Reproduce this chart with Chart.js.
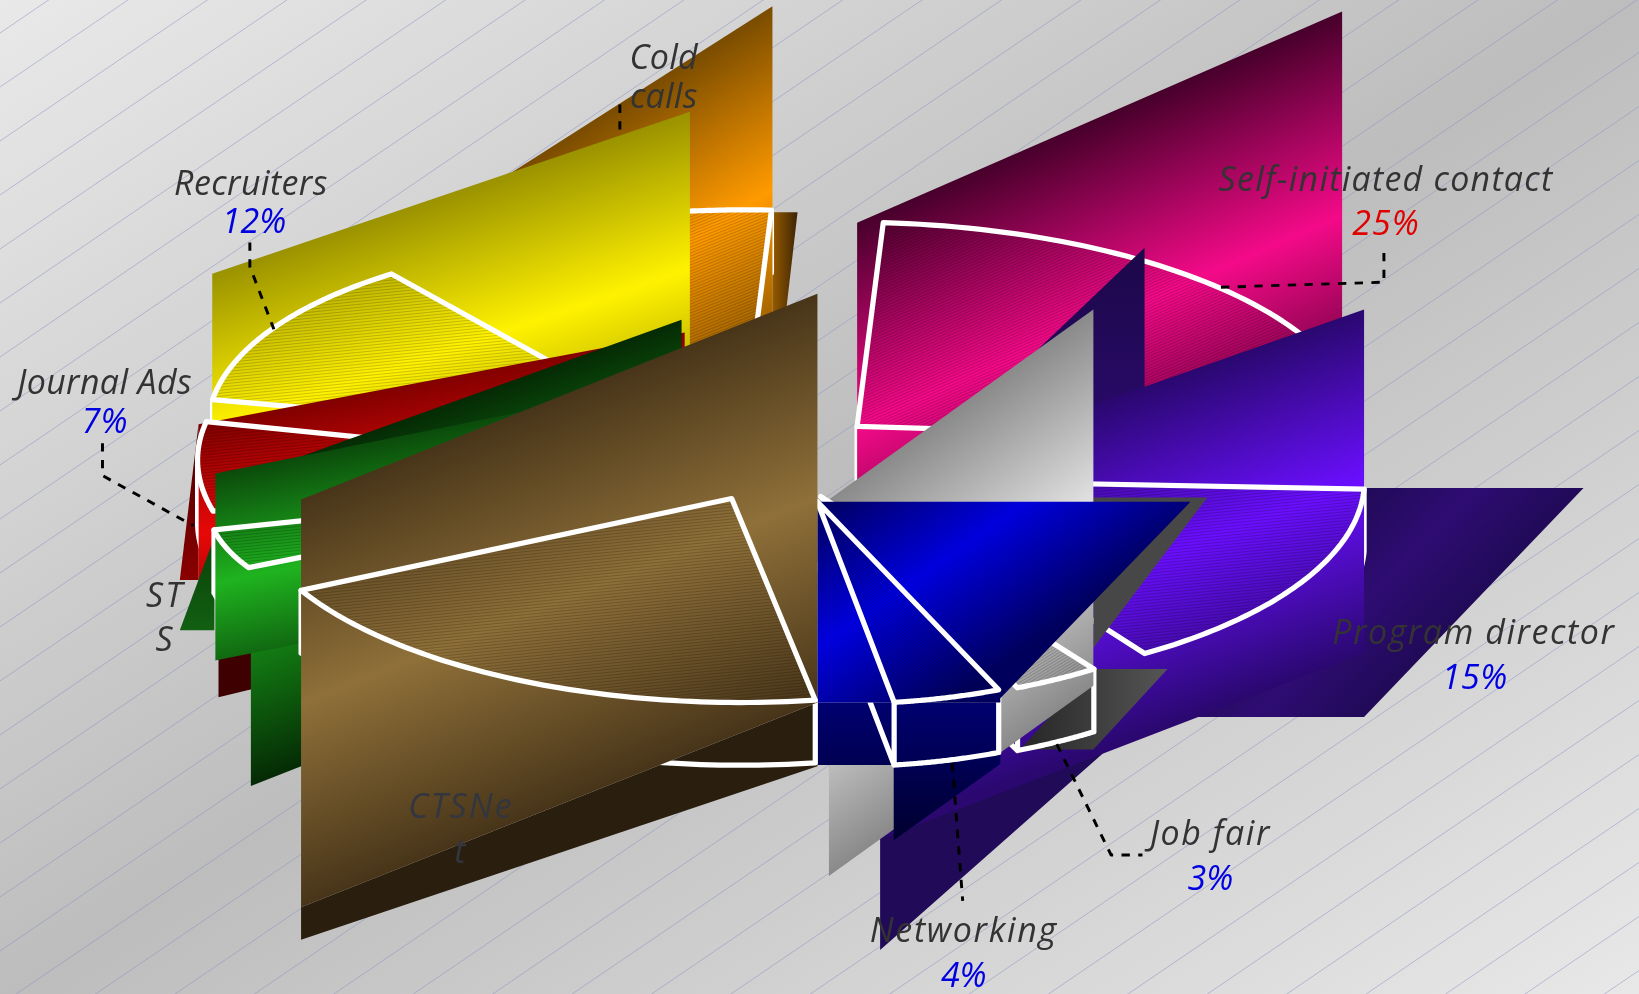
<!DOCTYPE html>
<html>
<head>
<meta charset="utf-8">
<style>html,body{margin:0;padding:0;background:#c8c8c8;overflow:hidden}canvas{display:block}</style>
<script src="https://cdn.jsdelivr.net/npm/chart.js@4/dist/chart.umd.min.js"></script>
</head>
<body>
<canvas id="c" width="1639" height="994"></canvas>
<script>
const categories = ['Self-initiated contact','Program director','Job fair','Networking','CTSNet','STS','Journal Ads','Recruiters','Cold calls'];
const shares = [25,15,3,4,20,4,7,12,10];
const labelLines = [['Self-initiated contact'],['Program director'],['Job fair'],['Networking'],['CTSNe','t'],['ST','S'],['Journal Ads'],['Recruiters'],['Cold','calls']];
const showShare = [true,true,true,true,false,false,true,true,false];

function shear(x,y,s,h,dark,bright){return {x,y,s,h,dark,bright};}
function lin(x0,y0,x1,y1,c0,c1){return {x0,y0,x1,y1,c0,c1};}

const styles = [
 { // Self-initiated
  c:[820,408],a:[480,14],b:[-25,195],
  face:shear(820,213,-.435,390,'#47002b','#f40a88'),
  front:[{p:[820,213,1284,11,1284,401,820,603],f:'face'}],
  back:[],walls:{center:true},hs:-.435,
  label:[1326,171],share:[1326,214],leader:[1324,242,1324,270,1160,275],ls:1.2,sls:1
 },
 { // Program director
  c:[835,459],a:[470,9],b:[-20,199],
  face:shear(1305,296,-.36,329,'#2a0870','#6a0fff'),
  back:[
   {p:[1305,467,1515,467,1305,686,1135,686,1064,713,842,909,842,700,1305,500],f:shear(1305,467,-1.04,218,'#210a58','#2e0c72')},
   {p:[1095,237,1095,480,840,480],f:lin(0,237,0,420,'#1c0848','#2a0a6c')}
  ],
  front:[{p:[842,459,1305,296,1305,625,842,803],f:'face'}],
  walls:{start:true},hs:-.1,
  label:[1410,605],share:[1411,648],ls:1.5,sls:.5
 },
 { // Job fair
  c:[785,475],a:[449,7],b:[-3,199],
  face:shear(793,478,-.72,360,'#8a8a8a','#e0e0e0'),
  back:[
   {p:[1046,476,1155,476,1046,620],f:lin(0,0,1,0,'#474747','#474747')},
   {p:[1046,640,1117,640,1046,717,976,717],f:lin(976,0,1117,0,'#262626','#555555')}
  ],
  front:[{p:[793,478,1046,296,1046,656,793,838],f:'face'}],
  walls:{start:true,end:true,endRadial:true},hs:-.6,
  label:[1158,797],share:[1158,840],leader:[1011,712,1063,818,1093,818],ls:1.5,sls:0
 },
 { // Networking
  c:[782,480],a:[418,12.5],b:[-5,193],
  face:shear(782,480,-.7,280,'#00005c','#0000dc'),
  back:[{p:[782,672,957,672,957,731,855,804,855,732,782,732],f:lin(0,672,0,804,'#000070','#00002e')}],
  front:[{p:[782,480,1139,480,957,668,957,672,782,672],f:'face'}],
  walls:{start:true,end:true,endRadial:true},hs:-.7,
  label:[922,890],share:[922,933],leader:[911,730,921,862],ls:1.6,sls:0
 },
 { // CTSNet
  c:[700,477],a:[466,7],b:[-7.5,195],
  face:shear(288,478,-.399,390,'#483519','#8f7039'),
  back:[{p:[288,868,782,672,782,733,288,899],f:lin(0,0,1,0,'#2a1e0f','#2a1e0f')}],
  front:[{p:[288,478,782,281,782,672,288,868],f:'face'}],
  walls:{start:true,end:true},hs:-.1,
  label:[441,771],labelColor:'#33363f',ls:2
 },
 { // STS
  c:[658,460],a:[458,-8],b:[-39,158],
  face:shear(206,453,-.203,210,'#0b4a0b','#1fb31f'),
  back:[
   {p:[205,514,172,603,205,603],f:lin(0,514,0,603,'#0a3f0a','#126012')},
   {p:[240,454,652,306,652,590,240,752],f:shear(240,454,-.36,298,'#052a05','#158a15')}
  ],
  front:[{p:[206,453,652,363,652,542,206,632],f:'face'}],
  walls:{end:true},hs:-.1,
  label:[158,569],ls:2
 },
 { // Journal Ads
  c:[659,450],a:[470,10],b:[0,196],
  face:shear(190,406,-.198,210,'#800000','#e80808'),
  back:[
   {p:[190,405,172,555,190,555],f:lin(0,405,0,555,'#4a0000','#8a0000')},
   {p:[209,610,300,590,300,645,209,667],f:lin(0,0,1,0,'#3e0000','#3e0000')}
  ],
  front:[{p:[190,406,655,318,655,540,190,555],f:'face'}],
  walls:{extreme:Math.PI},hs:-.1,
  label:[100,366],share:[100,403],leader:[98,424,98,455,185,503],ls:.35,sls:0
 },
 { // Recruiters
  c:[666,423],a:[467,4],b:[21,196],
  face:shear(203,262,-.339,300,'#9a9200','#fff200'),
  back:[],
  front:[{p:[203,262,660,107,660,467,203,540],f:'face'}],
  walls:{start:true},hs:-.1,
  label:[240,175],share:[243,212],leader:[239,232,239,255,262,315],ls:.4,sls:0
 },
 { // Cold calls
  c:[713,396],a:[470,10],b:[-25,195],
  face:shear(739,6,-.639,350,'#7a4c00','#ff9a00'),
  back:[{p:[739,203,763,203,752,298,739,303],f:lin(739,0,763,0,'#965a00','#3c2405')}],
  front:[{p:[480,171,739,6,739,330,480,495],f:'face'}],
  walls:{end:true},hs:-.4,
  label:[635,55],leader:[593,100,593,140],early:true,ls:.25
 }
];
const drawOrder = [8,0,1,2,3,7,6,5,4];
const DEPTH = 60;

function fillStyleOf(ctx,f){
  let g;
  if('s' in f){
    const k=f.h/(1+f.s*f.s);
    g=ctx.createLinearGradient(f.x,f.y,f.x-f.s*k,f.y+k);
    g.addColorStop(0,f.dark);g.addColorStop(.5,f.bright);g.addColorStop(1,f.dark);
  }else{
    g=ctx.createLinearGradient(f.x0,f.y0,f.x1,f.y1);
    g.addColorStop(0,f.c0);g.addColorStop(1,f.c1);
  }
  return g;
}
function poly(ctx,p,f,st){
  ctx.beginPath();ctx.moveTo(p[0],p[1]);
  for(let i=2;i<p.length;i+=2)ctx.lineTo(p[i],p[i+1]);
  ctx.closePath();
  ctx.fillStyle=fillStyleOf(ctx,f==='face'?st.face:f);ctx.fill();
}
function pt(st,t,dy){
  const c=Math.cos(t),s=Math.sin(t);
  return [st.c[0]+st.a[0]*c+st.b[0]*s, st.c[1]+st.a[1]*c+st.b[1]*s+(dy||0)];
}
function rimPath(ctx,st,t1,t2,dy,start){
  const n=64;
  for(let i=0;i<=n;i++){
    const q=pt(st,t1+(t2-t1)*i/n,dy);
    if(i===0&&start)ctx.moveTo(q[0],q[1]);else ctx.lineTo(q[0],q[1]);
  }
}
function white(ctx){ctx.strokeStyle='#fff';ctx.lineWidth=5;ctx.lineJoin='round';ctx.lineCap='round';}
function drawWalls(ctx,st,t1,t2){
  white(ctx);
  ctx.beginPath();rimPath(ctx,st,t1,t2,DEPTH,true);
  const vert=(t)=>{const a=pt(st,t),b=pt(st,t,DEPTH);ctx.moveTo(a[0],a[1]);ctx.lineTo(b[0],b[1]);};
  const w=st.walls;
  if(w.start)vert(t1);
  if(w.end)vert(t2);
  if(w.extreme!==undefined)vert(w.extreme);
  if(w.center){ctx.moveTo(st.c[0],st.c[1]);ctx.lineTo(st.c[0],st.c[1]+DEPTH+8);}
  if(w.endRadial){const e=pt(st,t2,DEPTH);ctx.moveTo(e[0],e[1]);ctx.lineTo(st.c[0],st.c[1]+DEPTH);}
  ctx.stroke();
}
function drawWedge(ctx,st,t1,t2){
  ctx.beginPath();ctx.moveTo(st.c[0],st.c[1]);rimPath(ctx,st,t1,t2,0,false);ctx.closePath();
  ctx.fillStyle=fillStyleOf(ctx,st.face);ctx.fill();
  ctx.save();ctx.clip();
  ctx.strokeStyle='rgba(0,0,0,.2)';ctx.lineWidth=.9;ctx.beginPath();
  for(let y=-900;y<1900;y+=2.87){ctx.moveTo(0,y);ctx.lineTo(1568,y+st.hs*1568);}
  ctx.stroke();ctx.restore();
  ctx.beginPath();ctx.moveTo(st.c[0],st.c[1]);rimPath(ctx,st,t1,t2,0,false);ctx.closePath();
  white(ctx);ctx.stroke();
}
function drawLeader(ctx,st){
  if(!st.leader)return;
  const l=st.leader;
  ctx.save();ctx.strokeStyle='#000';ctx.lineWidth=2.8;ctx.lineCap='butt';ctx.lineJoin='round';ctx.setLineDash([8,8]);
  ctx.beginPath();ctx.moveTo(l[0],l[1]);
  for(let i=2;i<l.length;i+=2)ctx.lineTo(l[i],l[i+1]);
  ctx.stroke();ctx.restore();
}
function drawLabel(ctx,st,i,maxShare){
  ctx.font='italic 32.5px "Open Sans"';ctx.textAlign='center';ctx.textBaseline='middle';
  ctx.fillStyle=st.labelColor||'#333333';
  ctx.letterSpacing=(st.ls||0)+'px';
  const lines=labelLines[i];
  lines.forEach((t,n)=>ctx.fillText(t,st.label[0],st.label[1]+2+n*(i===8?37:43)));
  if(showShare[i]){
    ctx.letterSpacing=(st.sls||0)+'px';
    ctx.fillStyle=shares[i]===maxShare?'#e00000':'#0000e0';
    ctx.fillText(shares[i]+'%',st.share[0],st.share[1]+2);
  }
  ctx.letterSpacing='0px';
}

const scene3d = {
  id:'scene3d',
  beforeDatasetsDraw(chart){
    const ctx=chart.ctx,W=chart.width,H=chart.height;
    const nx=.5186,ny=.855,d=850,cx=W/2,cy=H/2;
    const g=ctx.createLinearGradient(cx-nx*d,cy-ny*d,cx+nx*d,cy+ny*d);
    g.addColorStop(0,'#e9e9e9');g.addColorStop(.5,'#bdbdbd');g.addColorStop(1,'#e8e8e8');
    ctx.save();ctx.fillStyle=g;ctx.fillRect(0,0,W,H);
    ctx.strokeStyle='rgba(135,145,190,.5)';ctx.lineWidth=1;ctx.beginPath();
    for(let y=33;y<H+1300;y+=54){ctx.moveTo(0,y);ctx.lineTo(W,y-.68*W);}
    ctx.stroke();ctx.restore();
  },
  afterDatasetsDraw(chart){
    const ctx=chart.ctx,arcs=chart.getDatasetMeta(0).data;
    const k=arcs[0].outerRadius/475.5;
    const maxShare=Math.max(...shares);
    ctx.save();
    ctx.translate(arcs[0].x,arcs[0].y);ctx.scale(k,k);ctx.translate(-784,-475.5);
    for(const i of drawOrder){
      const st=styles[i],t1=arcs[i].startAngle,t2=arcs[i].endAngle;
      st.back.forEach(b=>poly(ctx,b.p,b.f,st));
      drawWalls(ctx,st,t1,t2);
      st.front.forEach(b=>poly(ctx,b.p,b.f,st));
      drawWedge(ctx,st,t1,t2);
      if(st.early){drawLeader(ctx,st);drawLabel(ctx,st,i,maxShare);}
    }
    for(const i of drawOrder){
      const st=styles[i];
      if(!st.early){drawLeader(ctx,st);drawLabel(ctx,st,i,maxShare);}
    }
    ctx.restore();
  }
};

new Chart(document.getElementById('c'),{
  type:'pie',
  data:{labels:categories,datasets:[{data:shares,backgroundColor:'rgba(0,0,0,0)',borderWidth:0}]},
  options:{responsive:false,animation:false,layout:{padding:0},plugins:{legend:{display:false},tooltip:{enabled:false}}},
  plugins:[scene3d]
});
</script>
</body>
</html>
